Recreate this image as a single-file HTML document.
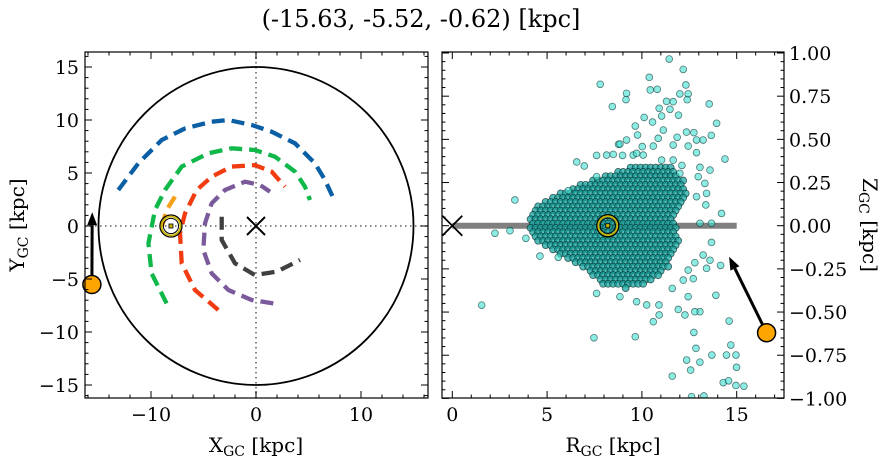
<!DOCTYPE html>
<html><head><meta charset="utf-8"><style>
html,body{margin:0;padding:0;background:#fff;}
svg{display:block;font-family:"DejaVu Serif","Liberation Serif",serif;}
</style></head><body>
<svg id="fig" width="887" height="464" viewBox="0 0 887 464" xmlns="http://www.w3.org/2000/svg">
<text x="421" y="27" font-size="24" text-anchor="middle">(-15.63, -5.52, -0.62) [kpc]</text>
<g id="left"></g>
<g id="right"></g>
</svg>
<script>
// ---------- data ----------
const posXYZ = [-15.63, -5.52, -0.62];
const sunX = -8.1;
const sunR = 8.2;
const diskRadius = 15;
const blueArcX = [-13.11,-11.21,-8.98,-6.76,-4.22,-2.63,-0.41,1.49,3.71,5.62,6.57,7.37];
const blueArcY = [3.40,5.91,8.11,9.21,9.84,10.0,9.53,8.90,7.80,5.91,4.34,2.61];
const greenArcX = [-8.51,-9.94,-10.25,-9.62,-8.67,-7.08,-4.54,-2.32,-0.10,1.81,3.71,4.67,5.14];
const greenArcY = [-7.30,-4.47,-1.64,1.51,3.40,5.60,6.86,7.33,7.17,6.54,5.13,3.71,2.45];
const redArcX = [-3.59,-5.81,-7.08,-7.24,-6.76,-5.65,-4.22,-2.32,-0.10,1.49,2.76];
const redArcY = [-7.92,-6.04,-3.52,-0.69,1.19,3.40,4.65,5.60,5.75,5.13,3.71];
const purpleArcX = [1.65,-0.41,-2.63,-4.22,-5.02,-4.86,-4.22,-2.95,-1.05,0.38,1.33];
const purpleArcY = [-7.30,-6.98,-6.04,-4.47,-2.26,0.25,2.14,3.40,4.18,3.87,3.24];
const grayArcX = [-3.27,-3.27,-2.0,-0.10,1.97,4.19];
const grayArcY = [0.88,-1.32,-3.52,-4.62,-4.31,-3.21];
const orangeArcX = [-7.71,-8.51,-9.14];
const orangeArcY = [2.77,1.51,-0.69];
const leftArrowTip = [-15.6, 1.3];
const rightArrowTip = [14.6, -0.18];
const leftTicks = [-10,0,10];
const leftYTicks = [-15,-10,-5,0,5,10,15];
const rightXTicks = [0,5,10,15];
const rightYTicks = [-1.0,-0.75,-0.5,-0.25,0,0.25,0.5,0.75,1.0];
const rightYLabels = ["\u22121.00","\u22120.75","\u22120.50","\u22120.25","0.00","0.25","0.50","0.75","1.00"];
const starR = [11.44,12.18,10.39,7.80,12.32,10.44,10.81,9.19,12.0,12.44,9.16,12.39,8.44,11.3,11.65,13.55,10.91,11.48,11.93,11.04,10.12,10.56,9.65,13.94,11.13,12.35,12.74,13.23,13.66,9.77,9.19,8.77,10.86,11.86,10.02,11.65,12.44,12.88,7.61,8.14,8.49,8.98,9.54,10.07,14.38,6.56,6.96,13.06,13.59,12.97,3.30,6.12,7.61,13.32,13.41,12.88,13.37,14.2,13.67,13.06,2.25,3.04,3.88,4.62,5.59,13.67,13.23,13.59,14.15,12.79,13.41,12.44,7.61,8.84,9.72,10.25,10.9,11.6,12.18,12.71,13.9,12.44,11.92,12.27,13.06,12.79,14.6,10.6,10.91,12.74,9.65,7.47,14.69,12.85,13.69,14.46,14.96,12.36,13.06,14.99,11.6,12.57,14.29,14.57,14.96,15.38,12.62,13.27,12.11,12.0,11.65,11.04,8.84,10.6,12.88,9.72,1.55];
const starZ = [0.965,0.905,0.859,0.819,0.815,0.786,0.79,0.766,0.763,0.763,0.73,0.73,0.69,0.72,0.718,0.705,0.68,0.674,0.64,0.635,0.627,0.60,0.577,0.593,0.554,0.542,0.539,0.496,0.523,0.525,0.496,0.471,0.506,0.512,0.458,0.467,0.461,0.423,0.407,0.409,0.413,0.407,0.409,0.409,0.386,0.369,0.346,0.338,0.322,0.284,0.149,0.203,0.284,0.245,0.187,0.168,0.12,0.071,0.014,0.014,-0.044,-0.029,-0.073,-0.176,-0.183,-0.097,-0.17,-0.2,-0.23,-0.214,-0.247,-0.257,-0.392,-0.411,-0.44,-0.459,-0.459,-0.363,-0.315,-0.307,-0.403,-0.411,-0.485,-0.517,-0.498,-0.498,-0.552,-0.556,-0.517,-0.618,-0.643,-0.649,-0.691,-0.71,-0.749,-0.749,-0.749,-0.778,-0.79,-0.82,-0.871,-0.836,-0.909,-0.898,-0.925,-0.929,-0.99,-0.986,0.349,0.303,0.38,0.38,0.473,0.461,0.496,0.419,-0.46];
const coreR = [4.09,4.62,6.03,7.26,8.49,9.54,10.6,11.65,12.18,12.36,12.0,11.65,12.0,11.65,11.3,10.6,9.89,9.19,8.14,7.08,6.38,5.5,4.45,4.0];
const coreZ = [0.071,0.129,0.207,0.264,0.303,0.342,0.361,0.342,0.264,0.187,0.11,0.033,-0.083,-0.18,-0.257,-0.315,-0.353,-0.363,-0.353,-0.257,-0.208,-0.16,-0.083,-0.025];

// ---------- helpers ----------
const NS = "http://www.w3.org/2000/svg";
function mk(tag, attrs, parent){const e=document.createElementNS(NS,tag);for(const k in attrs)e.setAttribute(k,attrs[k]);parent.appendChild(e);return e;}
const fmtNum = v => (v<0?"\u2212":"")+Math.abs(v);

// ---------- left panel ----------
const L = document.getElementById('left');
const lx0=85,lx1=428,ly0=52,ly1=398;
const lxs = x => 256 + 10.5*x;
const lys = y => 226 - 10.6*y;
let cp = mk('clipPath',{id:'lclip'},L); mk('rect',{x:lx0,y:ly0,width:lx1-lx0,height:ly1-ly0},cp);
const Lg = mk('g',{'clip-path':'url(#lclip)'},L);
let e;
e = mk('line',{x1:lx0,x2:lx1,y1:lys(0),y2:lys(0),stroke:'#777','stroke-width':1.8,'stroke-dasharray':'1.5 3.5'},Lg);
 
e = mk('line',{x1:lxs(0),x2:lxs(0),y1:ly0,y2:ly1,stroke:'#777','stroke-width':1.8,'stroke-dasharray':'1.5 3.5'},Lg);
 
e = mk('ellipse',{cx:lxs(0),cy:lys(0),rx:10.5*diskRadius,ry:10.6*diskRadius,fill:'none',stroke:'#000','stroke-width':1.8},Lg);
 
function arc(xs,ys,color,name){
  const d = xs.map((x,i)=>(i?'L':'M')+lxs(x).toFixed(1)+','+lys(ys[i]).toFixed(1)).join(' ');
  const p = mk('path',{d:d,fill:'none',stroke:color,'stroke-width':4.3,'stroke-dasharray':'13 7','stroke-linejoin':'round'},Lg);
  
  
}
arc(orangeArcX,orangeArcY,'#f5a01a','orange-arm');
arc(blueArcX,blueArcY,'#0b5fa5','blue-arm');
arc(greenArcX,greenArcY,'#10b84a','green-arm');
arc(redArcX,redArcY,'#f03c10','red-arm');
arc(purpleArcX,purpleArcY,'#7a5a9a','purple-arm');
arc(grayArcX,grayArcY,'#404040','gray-arm');
e = mk('path',{d:`M${lxs(0)-9},${lys(0)-9}L${lxs(0)+9},${lys(0)+9}M${lxs(0)-9},${lys(0)+9}L${lxs(0)+9},${lys(0)-9}`,stroke:'#000','stroke-width':2,fill:'none'},Lg);
 
function sun(g,cx,cy,name){
  const s = mk('g',{},g);
   
  mk('circle',{cx:cx,cy:cy,r:11,fill:'none',stroke:'#000','stroke-width':1.3},s);
  mk('circle',{cx:cx,cy:cy,r:9.5,fill:'none',stroke:'#c8b400','stroke-width':1.8},s);
  mk('circle',{cx:cx,cy:cy,r:7.6,fill:'none',stroke:'#000','stroke-width':1},s);
  mk('rect',{x:cx-2,y:cy-2,width:4,height:4,fill:'#c8b400',stroke:'#000','stroke-width':0.8},s);
}
sun(Lg,lxs(sunX),lys(0),'sun-marker-xy');
function arrow(g,x1,y1,x2,y2,name){
  const a = mk('g',{},g);
   
  const ang=Math.atan2(y2-y1,x2-x1), L2=13, W=5;
  const bx=x2-L2*Math.cos(ang), by=y2-L2*Math.sin(ang);
  mk('line',{x1:x1,y1:y1,x2:bx,y2:by,stroke:'#000','stroke-width':3},a);
  mk('polygon',{points:`${x2},${y2} ${bx-W*Math.sin(ang)},${by+W*Math.cos(ang)} ${bx+W*Math.sin(ang)},${by-W*Math.cos(ang)}`,fill:'#000'},a);
}
arrow(L,lxs(posXYZ[0]),lys(posXYZ[1]),lxs(leftArrowTip[0]),lys(leftArrowTip[1]),'velocity-arrow-xy');
e = mk('circle',{cx:lxs(posXYZ[0]),cy:lys(posXYZ[1]),r:9,fill:'#ffa500',stroke:'#000','stroke-width':1.5},L);
 
e = mk('rect',{x:lx0,y:ly0,width:lx1-lx0,height:ly1-ly0,fill:'none',stroke:'#000','stroke-width':1.2},L);
 
for(let v=-16;v<=16;v+=2){const p=lxs(v);if(p<lx0||p>lx1)continue;const len=v%10===0?7:3.5;
  mk('line',{x1:p,x2:p,y1:ly1,y2:ly1-len,stroke:'#000','stroke-width':1},L);mk('line',{x1:p,x2:p,y1:ly0,y2:ly0+len,stroke:'#000','stroke-width':1},L);}
for(let v=-16;v<=16;v+=1){const p=lys(v);if(p<ly0||p>ly1)continue;const len=v%5===0?7:3.5;
  mk('line',{x1:lx0,x2:lx0+len,y1:p,y2:p,stroke:'#000','stroke-width':1},L);mk('line',{x1:lx1,x2:lx1-len,y1:p,y2:p,stroke:'#000','stroke-width':1},L);}
leftTicks.forEach(v=>{const t=mk('text',{x:lxs(v),y:ly1+23,'font-size':19,'text-anchor':'middle'},L);t.textContent=fmtNum(v);
   });
leftYTicks.forEach(v=>{const t=mk('text',{x:lx0-6,y:lys(v)+7,'font-size':19,'text-anchor':'end'},L);t.textContent=fmtNum(v);
   });
e = mk('text',{x:256,y:452,'font-size':20,'text-anchor':'middle'},L);
e.innerHTML='X<tspan font-size="14" dy="4">GC</tspan><tspan dy="-4"> [kpc]</tspan>';
 
e = mk('text',{x:0,y:0,'font-size':20,'text-anchor':'middle',transform:'translate(24,225) rotate(-90)'},L);
e.innerHTML='Y<tspan font-size="14" dy="4">GC</tspan><tspan dy="-4"> [kpc]</tspan>';
 

// ---------- right panel ----------
const R = document.getElementById('right');
const rx0=442,rx1=784,ry0=52,ry1=398;
const rxs = r => 452.3 + 18.96*r;
const rys = z => 225.7 - 172.7*z;
cp = mk('clipPath',{id:'rclip'},R); mk('rect',{x:rx0,y:ry0,width:rx1-rx0,height:ry1-ry0},cp);
const Rg = mk('g',{'clip-path':'url(#rclip)'},R);
e = mk('line',{x1:rxs(0),x2:rxs(diskRadius),y1:rys(0),y2:rys(0),stroke:'#808080','stroke-width':6},Rg);
 
e = mk('path',{d:`M${rxs(0)-10},${rys(0)-10}L${rxs(0)+10},${rys(0)+10}M${rxs(0)-10},${rys(0)+10}L${rxs(0)+10},${rys(0)-10}`,stroke:'#000','stroke-width':1.8,fill:'none'},Rg);
 
const poly = coreR.map((r,i)=>[rxs(r),rys(coreZ[i])]);
function inside(x,y){let c=false;for(let i=0,j=poly.length-1;i<poly.length;j=i++){const [xi,yi]=poly[i],[xj,yj]=poly[j];
  if(((yi>y)!==(yj>y))&&(x<(xj-xi)*(y-yi)/(yj-yi)+xi))c=!c;}return c;}
const coreG = mk('g',{},Rg);
 
let minX=Math.min(...poly.map(p=>p[0])),maxX=Math.max(...poly.map(p=>p[0])),minY=Math.min(...poly.map(p=>p[1])),maxY=Math.max(...poly.map(p=>p[1]));
let row=0;
for(let y=minY;y<=maxY;y+=4.3,row++){for(let x=minX+(row%2)*2.5;x<=maxX;x+=5){if(!inside(x,y))continue;
  mk('circle',{cx:x,cy:y,r:3.5,fill:'rgba(25,165,160,0.75)',stroke:'rgba(0,40,40,0.7)','stroke-width':0.8},coreG);}}
starR.forEach((r,i)=>{const c=mk('circle',{cx:rxs(r),cy:rys(starZ[i]),r:3.4,fill:'rgba(64,224,208,0.6)',stroke:'rgba(0,40,40,0.6)','stroke-width':0.8},Rg);
   });
sun(Rg,rxs(sunR),rys(0),'sun-marker-rz');
const objR = Math.hypot(posXYZ[0],posXYZ[1]);
arrow(R,rxs(objR),rys(posXYZ[2]),rxs(rightArrowTip[0]),rys(rightArrowTip[1]),'velocity-arrow-rz');
e = mk('circle',{cx:rxs(objR),cy:rys(posXYZ[2]),r:9,fill:'#ffa500',stroke:'#000','stroke-width':1.5},R);
 
e = mk('rect',{x:rx0,y:ry0,width:rx1-rx0,height:ry1-ry0,fill:'none',stroke:'#000','stroke-width':1.2},R);
 
for(let v=0;v<=18;v+=1){const p=rxs(v);if(p<rx0||p>rx1)continue;const len=v%5===0?7:3.5;
  mk('line',{x1:p,x2:p,y1:ry1,y2:ry1-len,stroke:'#000','stroke-width':1},R);mk('line',{x1:p,x2:p,y1:ry0,y2:ry0+len,stroke:'#000','stroke-width':1},R);}
for(let k=-20;k<=20;k++){const p=rys(k*0.05);const len=k%5===0?7:3.5;
  mk('line',{x1:rx0,x2:rx0+len,y1:p,y2:p,stroke:'#000','stroke-width':1},R);mk('line',{x1:rx1,x2:rx1-len,y1:p,y2:p,stroke:'#000','stroke-width':1},R);}
rightXTicks.forEach(v=>{const t=mk('text',{x:rxs(v),y:ry1+23,'font-size':19,'text-anchor':'middle'},R);t.textContent=fmtNum(v);
   });
rightYTicks.forEach((v,i)=>{const t=mk('text',{x:rx1+5,y:rys(v)+7,'font-size':19,'text-anchor':'start'},R);t.textContent=rightYLabels[i];
   });
e = mk('text',{x:613,y:452,'font-size':20,'text-anchor':'middle'},R);
e.innerHTML='R<tspan font-size="14" dy="4">GC</tspan><tspan dy="-4"> [kpc]</tspan>';
 
e = mk('text',{x:0,y:0,'font-size':20,'text-anchor':'middle',transform:'translate(863,225) rotate(90)'},R);
e.innerHTML='Z<tspan font-size="14" dy="4">GC</tspan><tspan dy="-4"> [kpc]</tspan>';
 
</script>
</body></html>
